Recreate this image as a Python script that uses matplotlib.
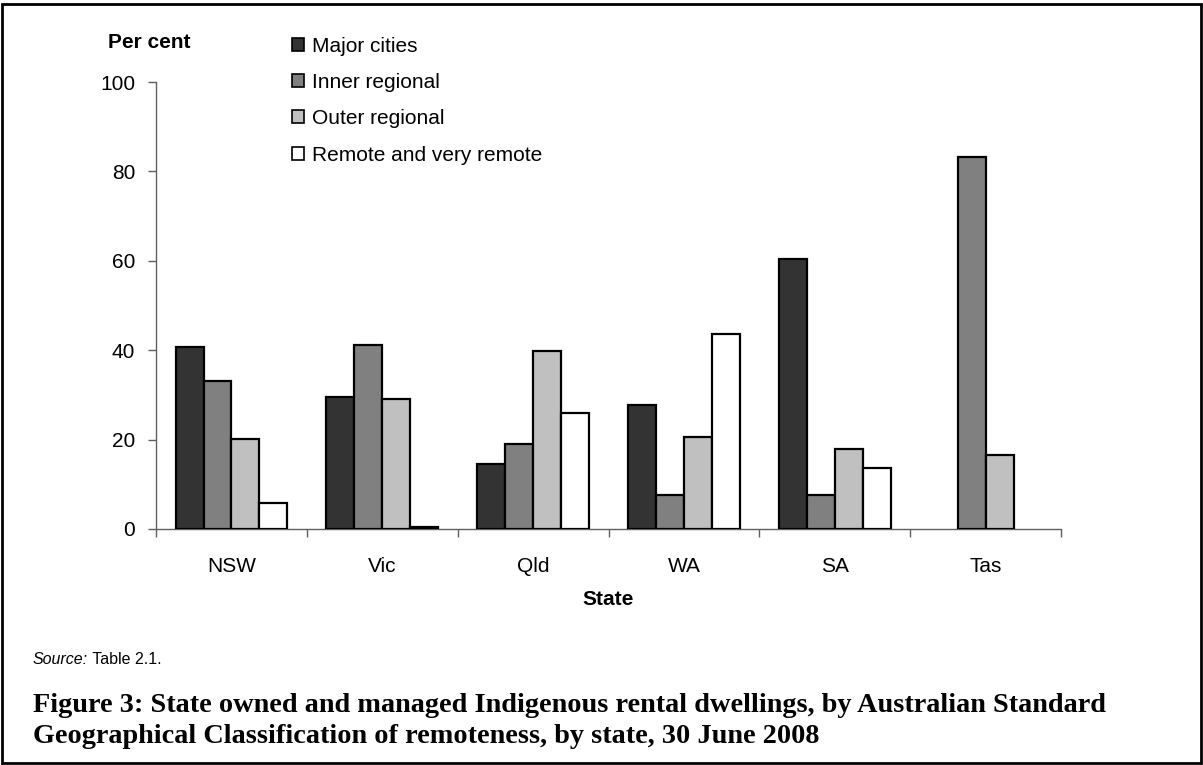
import numpy as np
import matplotlib
matplotlib.use("Agg")
import matplotlib.pyplot as plt
from matplotlib.patches import Rectangle

states = ["NSW", "Vic", "Qld", "WA", "SA", "Tas"]
series = ["Major cities", "Inner regional", "Outer regional", "Remote and very remote"]

major_cities = [40.8, 29.6, 14.6, 27.7, 60.4, 0.0]
inner_regional = [33.1, 41.1, 19.1, 7.5, 7.5, 83.3]
outer_regional = [20.1, 29.0, 39.8, 20.5, 17.8, 16.5]
remote = [5.8, 0.4, 25.9, 43.7, 13.7, 0.0]

yticks = [0, 20, 40, 60, 80, 100]
fills = ["#333333", "#808080", "#c0c0c0", "#ffffff"]

plt.rcParams["font.family"] = ["Liberation Sans", "DejaVu Sans"]
fs = 15

fig = plt.figure(figsize=(12.03, 7.65), dpi=100)
ax = fig.add_axes([0.1297, 0.3085, 0.7523, 0.5843])

x = np.arange(len(states)) + 0.5
width = 0.185
handles = []
for k, (name, vals) in enumerate(zip(series, [major_cities, inner_regional, outer_regional, remote])):
    vals = np.array(vals)
    pos = x + (k - 1.5) * width
    keep = vals > 0
    bars = ax.bar(pos[keep], vals[keep], width=width, color=fills[k],
                  edgecolor="black", linewidth=1.6, label=name, zorder=3)
    handles.append(bars)

ax.set_xlim(0, len(states))
ax.set_ylim(0, 100)

for side in ["top", "right"]:
    ax.spines[side].set_visible(False)
for side in ["left", "bottom"]:
    ax.spines[side].set_color("#606060")
    ax.spines[side].set_linewidth(1.0)

ax.set_yticks(yticks)
ax.set_yticklabels([str(v) for v in yticks], fontsize=fs)
ax.tick_params(axis="y", direction="out", length=6, width=1, color="#606060", pad=9)

# ticks sit on the category boundaries, labels in the middle
ax.set_xticks(np.arange(len(states) + 1))
ax.set_xticklabels([])
ax.set_xticks(x, minor=True)
ax.set_xticklabels(states, minor=True, fontsize=fs)
ax.tick_params(axis="x", which="major", direction="out", length=6, width=1, color="#606060")
ax.tick_params(axis="x", which="minor", length=0, pad=20)

ax.set_xlabel("State", fontsize=fs, fontweight="bold", labelpad=10)
fig.text(0.0898, 0.944, "Per cent", fontsize=fs, fontweight="bold", va="center", ha="left")

leg = ax.legend(handles=handles, loc="upper left", bbox_to_anchor=(0.2355, 0.963),
                bbox_transform=fig.transFigure, frameon=False, fontsize=fs,
                handlelength=0.6, handleheight=0.6, handletextpad=0.4,
                labelspacing=0.83, borderaxespad=0)
for h in leg.legend_handles:
    h.set_linewidth(1.2)

src = fig.text(0.0274, 0.138, "Source:", fontsize=11.5, style="italic", va="center")
ax.annotate(" Table 2.1.", xy=(1, 0.5), xycoords=src, va="center", ha="left",
            fontsize=11.5, annotation_clip=False)

fig.text(0.0274, 0.0575, "Figure 3: State owned and managed Indigenous rental dwellings, by Australian Standard\n"
         "Geographical Classification of remoteness, by state, 30 June 2008",
         fontsize=20.3, fontweight="bold", family=["Liberation Serif", "DejaVu Serif"],
         va="center", ha="left", linespacing=1.3)

fig.patches.append(Rectangle((0.002, 0.003), 0.996, 0.992, transform=fig.transFigure,
                             fill=False, edgecolor="black", linewidth=2))

fig.savefig("out.png", dpi=100)
